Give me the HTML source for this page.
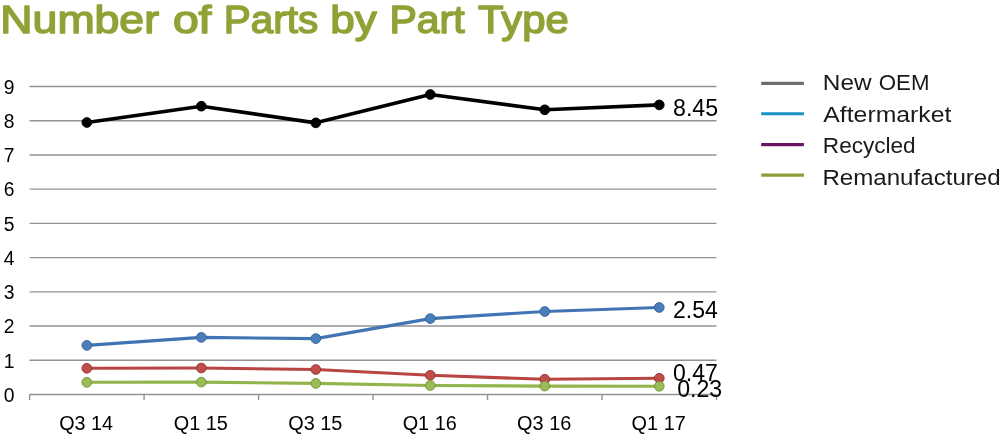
<!DOCTYPE html>
<html><head><meta charset="utf-8"><style>
html,body{margin:0;padding:0;background:#fff;}
body{width:1000px;height:435px;overflow:hidden;}
svg{display:block;will-change:transform;}
text{font-family:"Liberation Sans",sans-serif;}
</style></head><body>
<svg width="1000" height="435" viewBox="0 0 1000 435">
<text x="0.36" y="33.40" font-size="39.2" fill="#90a236" textLength="158.70" lengthAdjust="spacingAndGlyphs" stroke="#90a236" stroke-width="1.5" stroke-linejoin="round">Number</text>
<text x="172.90" y="33.40" font-size="39.2" fill="#90a236" textLength="38.59" lengthAdjust="spacingAndGlyphs" stroke="#90a236" stroke-width="1.5" stroke-linejoin="round">of</text>
<text x="223.79" y="33.40" font-size="39.2" fill="#90a236" textLength="94.42" lengthAdjust="spacingAndGlyphs" stroke="#90a236" stroke-width="1.5" stroke-linejoin="round">Parts</text>
<text x="330.20" y="33.40" font-size="39.2" fill="#90a236" textLength="46.45" lengthAdjust="spacingAndGlyphs" stroke="#90a236" stroke-width="1.5" stroke-linejoin="round">by</text>
<text x="389.45" y="33.40" font-size="39.2" fill="#90a236" textLength="75.16" lengthAdjust="spacingAndGlyphs" stroke="#90a236" stroke-width="1.5" stroke-linejoin="round">Part</text>
<text x="478.00" y="33.40" font-size="39.2" fill="#90a236" textLength="90.65" lengthAdjust="spacingAndGlyphs" stroke="#90a236" stroke-width="1.5" stroke-linejoin="round">Type</text>
<line x1="29.6" y1="360.28" x2="716.5" y2="360.28" stroke="#939393" stroke-width="1.4"/>
<line x1="29.6" y1="326.06" x2="716.5" y2="326.06" stroke="#939393" stroke-width="1.4"/>
<line x1="29.6" y1="291.83" x2="716.5" y2="291.83" stroke="#939393" stroke-width="1.4"/>
<line x1="29.6" y1="257.61" x2="716.5" y2="257.61" stroke="#939393" stroke-width="1.4"/>
<line x1="29.6" y1="223.39" x2="716.5" y2="223.39" stroke="#939393" stroke-width="1.4"/>
<line x1="29.6" y1="189.17" x2="716.5" y2="189.17" stroke="#939393" stroke-width="1.4"/>
<line x1="29.6" y1="154.95" x2="716.5" y2="154.95" stroke="#939393" stroke-width="1.4"/>
<line x1="29.6" y1="120.72" x2="716.5" y2="120.72" stroke="#939393" stroke-width="1.4"/>
<line x1="29.6" y1="86.50" x2="716.5" y2="86.50" stroke="#939393" stroke-width="1.4"/>
<line x1="29.6" y1="394.5" x2="716.5" y2="394.5" stroke="#939393" stroke-width="1.6"/>
<line x1="29.60" y1="394.5" x2="29.60" y2="400.0" stroke="#939393" stroke-width="1.4"/>
<line x1="144.08" y1="394.5" x2="144.08" y2="400.0" stroke="#939393" stroke-width="1.4"/>
<line x1="258.57" y1="394.5" x2="258.57" y2="400.0" stroke="#939393" stroke-width="1.4"/>
<line x1="373.05" y1="394.5" x2="373.05" y2="400.0" stroke="#939393" stroke-width="1.4"/>
<line x1="487.53" y1="394.5" x2="487.53" y2="400.0" stroke="#939393" stroke-width="1.4"/>
<line x1="602.02" y1="394.5" x2="602.02" y2="400.0" stroke="#939393" stroke-width="1.4"/>
<line x1="716.50" y1="394.5" x2="716.50" y2="400.0" stroke="#939393" stroke-width="1.4"/>
<text x="14.6" y="401.80" font-size="19.3" text-anchor="end" fill="#000">0</text>
<text x="14.6" y="367.58" font-size="19.3" text-anchor="end" fill="#000">1</text>
<text x="14.6" y="333.36" font-size="19.3" text-anchor="end" fill="#000">2</text>
<text x="14.6" y="299.13" font-size="19.3" text-anchor="end" fill="#000">3</text>
<text x="14.6" y="264.91" font-size="19.3" text-anchor="end" fill="#000">4</text>
<text x="14.6" y="230.69" font-size="19.3" text-anchor="end" fill="#000">5</text>
<text x="14.6" y="196.47" font-size="19.3" text-anchor="end" fill="#000">6</text>
<text x="14.6" y="162.25" font-size="19.3" text-anchor="end" fill="#000">7</text>
<text x="14.6" y="128.02" font-size="19.3" text-anchor="end" fill="#000">8</text>
<text x="14.6" y="93.80" font-size="19.3" text-anchor="end" fill="#000">9</text>
<text x="59.22" y="429.60" font-size="19.6" fill="#000" textLength="53.82" lengthAdjust="spacingAndGlyphs">Q3 14</text>
<text x="173.69" y="429.60" font-size="19.6" fill="#000" textLength="54.14" lengthAdjust="spacingAndGlyphs">Q1 15</text>
<text x="288.18" y="429.60" font-size="19.6" fill="#000" textLength="54.14" lengthAdjust="spacingAndGlyphs">Q3 15</text>
<text x="402.66" y="429.60" font-size="19.6" fill="#000" textLength="54.14" lengthAdjust="spacingAndGlyphs">Q1 16</text>
<text x="517.14" y="429.60" font-size="19.6" fill="#000" textLength="54.14" lengthAdjust="spacingAndGlyphs">Q3 16</text>
<text x="631.63" y="429.60" font-size="19.6" fill="#000" textLength="54.14" lengthAdjust="spacingAndGlyphs">Q1 17</text>
<polyline points="86.84,122.50 201.32,106.20 315.81,122.85 430.29,94.50 544.77,109.80 659.26,104.90" fill="none" stroke="#000000" stroke-width="3.6" stroke-linejoin="round"/>
<circle cx="86.84" cy="122.50" r="4.85" fill="#000000" stroke="#000000" stroke-width="1"/>
<circle cx="201.32" cy="106.20" r="4.85" fill="#000000" stroke="#000000" stroke-width="1"/>
<circle cx="315.81" cy="122.85" r="4.85" fill="#000000" stroke="#000000" stroke-width="1"/>
<circle cx="430.29" cy="94.50" r="4.85" fill="#000000" stroke="#000000" stroke-width="1"/>
<circle cx="544.77" cy="109.80" r="4.85" fill="#000000" stroke="#000000" stroke-width="1"/>
<circle cx="659.26" cy="104.90" r="4.85" fill="#000000" stroke="#000000" stroke-width="1"/>
<polyline points="86.84,345.40 201.32,337.40 315.81,338.60 430.29,318.60 544.77,311.50 659.26,307.50" fill="none" stroke="#4174b2" stroke-width="3.1" stroke-linejoin="round"/>
<circle cx="86.84" cy="345.40" r="4.85" fill="#4a7ebb" stroke="#36639c" stroke-width="1"/>
<circle cx="201.32" cy="337.40" r="4.85" fill="#4a7ebb" stroke="#36639c" stroke-width="1"/>
<circle cx="315.81" cy="338.60" r="4.85" fill="#4a7ebb" stroke="#36639c" stroke-width="1"/>
<circle cx="430.29" cy="318.60" r="4.85" fill="#4a7ebb" stroke="#36639c" stroke-width="1"/>
<circle cx="544.77" cy="311.50" r="4.85" fill="#4a7ebb" stroke="#36639c" stroke-width="1"/>
<circle cx="659.26" cy="307.50" r="4.85" fill="#4a7ebb" stroke="#36639c" stroke-width="1"/>
<polyline points="86.84,368.30 201.32,368.00 315.81,369.50 430.29,375.30 544.77,379.30 659.26,378.30" fill="none" stroke="#b94542" stroke-width="3.1" stroke-linejoin="round"/>
<circle cx="86.84" cy="368.30" r="4.85" fill="#c14d4a" stroke="#963735" stroke-width="1"/>
<circle cx="201.32" cy="368.00" r="4.85" fill="#c14d4a" stroke="#963735" stroke-width="1"/>
<circle cx="315.81" cy="369.50" r="4.85" fill="#c14d4a" stroke="#963735" stroke-width="1"/>
<circle cx="430.29" cy="375.30" r="4.85" fill="#c14d4a" stroke="#963735" stroke-width="1"/>
<circle cx="544.77" cy="379.30" r="4.85" fill="#c14d4a" stroke="#963735" stroke-width="1"/>
<circle cx="659.26" cy="378.30" r="4.85" fill="#c14d4a" stroke="#963735" stroke-width="1"/>
<polyline points="86.84,382.30 201.32,382.10 315.81,383.40 430.29,385.50 544.77,386.10 659.26,386.30" fill="none" stroke="#92b44c" stroke-width="3.1" stroke-linejoin="round"/>
<circle cx="86.84" cy="382.30" r="4.85" fill="#9abc55" stroke="#77963b" stroke-width="1"/>
<circle cx="201.32" cy="382.10" r="4.85" fill="#9abc55" stroke="#77963b" stroke-width="1"/>
<circle cx="315.81" cy="383.40" r="4.85" fill="#9abc55" stroke="#77963b" stroke-width="1"/>
<circle cx="430.29" cy="385.50" r="4.85" fill="#9abc55" stroke="#77963b" stroke-width="1"/>
<circle cx="544.77" cy="386.10" r="4.85" fill="#9abc55" stroke="#77963b" stroke-width="1"/>
<circle cx="659.26" cy="386.30" r="4.85" fill="#9abc55" stroke="#77963b" stroke-width="1"/>
<text x="672.97" y="116.30" font-size="23.6" fill="#000" textLength="45.17" lengthAdjust="spacingAndGlyphs">8.45</text>
<text x="673.02" y="318.30" font-size="23.6" fill="#000" textLength="44.75" lengthAdjust="spacingAndGlyphs">2.54</text>
<text x="672.98" y="380.50" font-size="23.6" fill="#000" textLength="44.75" lengthAdjust="spacingAndGlyphs">0.47</text>
<text x="677.18" y="397.00" font-size="23.6" fill="#000" textLength="44.96" lengthAdjust="spacingAndGlyphs">0.23</text>
<line x1="761.2" y1="83.35" x2="803.9" y2="83.35" stroke="#6e6e6e" stroke-width="3.2"/>
<line x1="761.2" y1="113.75" x2="803.9" y2="113.75" stroke="#1b8fc6" stroke-width="3.2"/>
<line x1="761.2" y1="144.7" x2="803.9" y2="144.7" stroke="#6a1563" stroke-width="3.2"/>
<line x1="761.2" y1="175.2" x2="803.9" y2="175.2" stroke="#8d9e3c" stroke-width="3.2"/>
<text x="822.89" y="90.20" font-size="22.9" fill="#1a1a1a" textLength="48.81" lengthAdjust="spacingAndGlyphs">New</text>
<text x="878.76" y="90.20" font-size="22.9" fill="#1a1a1a" textLength="50.75" lengthAdjust="spacingAndGlyphs">OEM</text>
<text x="823.30" y="121.75" font-size="22.9" fill="#1a1a1a" textLength="128.12" lengthAdjust="spacingAndGlyphs">Aftermarket</text>
<text x="822.84" y="152.80" font-size="22.9" fill="#1a1a1a" textLength="92.83" lengthAdjust="spacingAndGlyphs">Recycled</text>
<text x="822.42" y="185.00" font-size="22.9" fill="#1a1a1a" textLength="178.24" lengthAdjust="spacingAndGlyphs">Remanufactured</text>
</svg>
</body></html>
